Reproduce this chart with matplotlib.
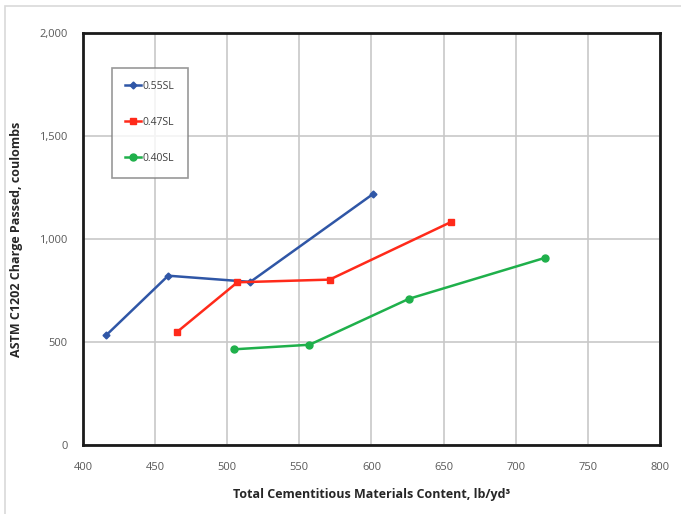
import matplotlib
matplotlib.use('Agg')
import matplotlib.pyplot as plt
import matplotlib.patches as mpatches

# series
x_055 = [416, 459, 516, 601]
y_055 = [533, 822, 792, 1218]
x_047 = [465, 507, 571, 655]
y_047 = [548, 790, 803, 1082]
x_040 = [505, 557, 626, 720]
y_040 = [465, 487, 710, 908]

xticks = [400, 450, 500, 550, 600, 650, 700, 750, 800]
yticks = [0, 500, 1000, 1500, 2000]

plt.rcParams['font.family'] = ['Open Sans', 'DejaVu Sans']

fig = plt.figure(figsize=(6.81, 5.14), dpi=100)
ax = fig.add_axes([0.122, 0.134, 0.847, 0.802])

# light outer frame of the original chart object
fig.add_artist(mpatches.Rectangle((0.007, -0.01), 1.2, 0.998, transform=fig.transFigure,
                                  fill=False, edgecolor='#d9d9d9', linewidth=1.2))

ax.plot(x_055, y_055, color='#2f56a6', lw=1.8, marker='D', ms=3.5, label='0.55SL')
ax.plot(x_047, y_047, color='#ff2a1a', lw=1.8, marker='s', ms=5, label='0.47SL')
ax.plot(x_040, y_040, color='#1fb04b', lw=1.8, marker='o', ms=5, label='0.40SL')

ax.set_xlim(400, 800)
ax.set_ylim(0, 2000)
ax.set_xticks(xticks)
ax.set_yticks(yticks)
ax.set_yticklabels(['{:,}'.format(v) for v in yticks])
ax.grid(True, color='#c8c8c8', lw=1.2)
ax.set_axisbelow(True)
ax.tick_params(axis='y', length=0, labelsize=8, colors='#595959', pad=11)
ax.tick_params(axis='x', length=0, labelsize=8, colors='#595959', pad=12)
for s in ax.spines.values():
    s.set_linewidth(2)
    s.set_color('#1a1a1a')

ax.set_xlabel('Total Cementitious Materials Content, lb/yd³', fontsize=9,
              fontweight='bold', color='#262626', labelpad=11)
ax.set_ylabel('ASTM C1202 Charge Passed, coulombs', fontsize=9,
              fontweight='bold', color='#262626', labelpad=12)

leg = ax.legend(loc='upper left', bbox_to_anchor=(0.05, 0.916), fontsize=7.5,
                frameon=True, fancybox=False, handlelength=1.5, handletextpad=0.15,
                labelspacing=2.4, borderpad=1.3, borderaxespad=0, labelcolor='#404040')
leg.get_frame().set_edgecolor('#7f7f7f')
leg.get_frame().set_linewidth(1.2)

fig.savefig('out.png', dpi=100)
